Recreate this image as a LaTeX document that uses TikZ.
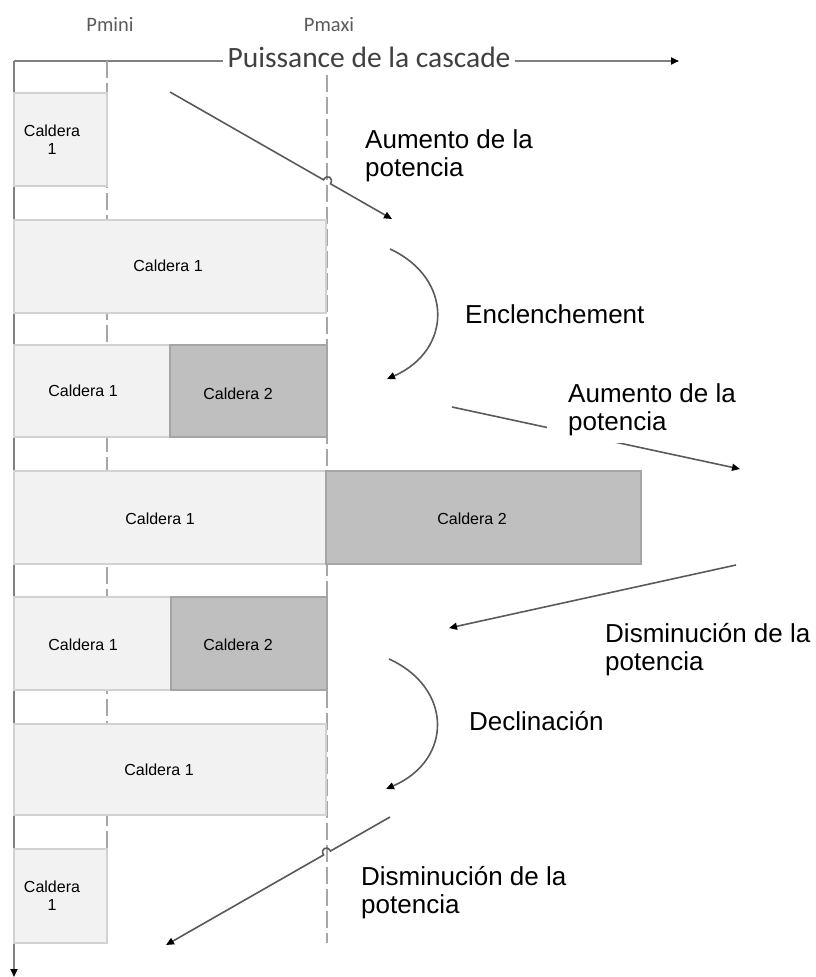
\documentclass[tikz,border=0pt]{standalone}
\usepackage{fontspec}
\setmainfont{Liberation Sans}
\newfontfamily\calib{Carlito}
\usetikzlibrary{arrows.meta}
\pgfdeclarelayer{lines}
\pgfdeclarelayer{mask}
\pgfsetlayers{lines,mask,main}
\definecolor{axisgray}{HTML}{808080}
\definecolor{dashgray}{HTML}{A6A6A6}
\definecolor{arrgray}{HTML}{5A5A5A}
\definecolor{calone}{HTML}{F2F2F2}
\definecolor{calonedraw}{HTML}{D2D2D2}
\definecolor{caltwo}{HTML}{BFBFBF}
\definecolor{caltwodraw}{HTML}{A5A5A5}
\definecolor{headtext}{HTML}{404040}
\definecolor{ptext}{HTML}{5A5A5A}
\begin{document}
\begin{tikzpicture}[x=1pt,y=-1pt,
  axisline/.style={draw=axisgray,line width=2.2pt},
  axistip/.style={-{Triangle[length=8pt,width=7pt,black]}},
  guide/.style={draw=dashgray,line width=2pt,dash pattern=on 17pt off 5pt},
  boxone/.style={draw=calonedraw,fill=calone,line width=1.2pt,inner sep=0pt,outer sep=0pt,anchor=north west},
  boxtwo/.style={draw=caltwodraw,fill=caltwo,line width=1.8pt,inner sep=0pt,outer sep=0pt,anchor=north west},
  lbl/.style={font=\fontsize{16}{18}\selectfont,inner sep=0pt,align=center},
  note/.style={font=\fontsize{26}{28}\selectfont,inner sep=0pt,align=left,anchor=base west},
  flow/.style={draw=arrgray,line width=1.6pt,-{Triangle[length=8pt,width=7pt,black]}},
]
\useasboundingbox (0,0) rectangle (816,977);

% axes
\coordinate (corner) at (14,61);
\coordinate (xend) at (679,61);
\coordinate (yend) at (14,977);
\node[font=\calib\fontsize{29.5}{32}\selectfont,text=headtext,fill=white,inner sep=4pt,anchor=base] (head) at (369,67) {Puissance de la cascade};
\node[font=\calib\fontsize{20.5}{22}\selectfont,text=ptext,inner sep=0pt,anchor=base] (pmini) at (110,31) {Pmini};
\node[font=\calib\fontsize{20.5}{22}\selectfont,text=ptext,inner sep=0pt,anchor=base] (pmaxi) at (329,31) {Pmaxi};

\begin{pgfonlayer}{lines}
\draw[axisline] (corner) -- (head.west |- corner);
\draw[axisline,axistip] (head.east |- corner) -- (xend);
\draw[axisline,axistip] (corner) -- (yend);

% guide lines
\coordinate (gmint) at (107,61);
\coordinate (gminb) at (107,943);
\coordinate (gmaxt) at (327,75);
\coordinate (gmaxb) at (327,943);
\draw[guide] (gmint) -- (gminb);
\draw[guide] (gmaxt) -- (gmaxb);

% boxes
\node[boxone,minimum width=93pt,minimum height=93pt] (r1a) at (14,93) {};
\node[boxone,minimum width=312pt,minimum height=93pt] (r2a) at (14,220) {};
\node[boxone,minimum width=156pt,minimum height=92pt] (r3a) at (14,345) {};
\node[boxtwo,minimum width=157pt,minimum height=92pt] (r3b) at (170,345) {};
\node[boxone,minimum width=312pt,minimum height=93pt] (r4a) at (14,471) {};
\node[boxtwo,minimum width=315pt,minimum height=93pt] (r4b) at (326,471) {};
\node[boxone,minimum width=157pt,minimum height=93pt] (r5a) at (14,597) {};
\node[boxtwo,minimum width=156pt,minimum height=93pt] (r5b) at (171,597) {};
\node[boxone,minimum width=312pt,minimum height=91pt] (r6a) at (14,724) {};
\node[boxone,minimum width=93pt,minimum height=94pt] (r7a) at (14,849) {};

% arrows
\coordinate (a1s) at (170,92);
\coordinate (a1h) at (323.5,179.8);
\coordinate (a1k) at (330.5,183.8);
\coordinate (a1e) at (392,219);
\draw[flow] (a1s) -- (a1h) .. controls (327,173.7) and (334,177.7) .. (a1k) -- (a1e);

\coordinate (a2s) at (390,249);
\coordinate (a2e) at (387,379);
\draw[flow] (a2s) .. controls (453,278) and (453,350) .. (a2e);

\coordinate (a3s) at (452,407);
\coordinate (a3e) at (740,469);
\draw[flow] (a3s) -- (a3e);

\coordinate (a4s) at (736,565);
\coordinate (a4e) at (449,628);
\draw[flow] (a4s) -- (a4e);

\coordinate (a5s) at (389,659);
\coordinate (a5e) at (386,789);
\draw[flow] (a5s) .. controls (453,688) and (453,760) .. (a5e);

\coordinate (a6s) at (390,817);
\coordinate (a6h) at (330.5,851);
\coordinate (a6k) at (323.5,855);
\coordinate (a6e) at (166,945);
\draw[flow] (a6s) -- (a6h) .. controls (327,844.9) and (320,848.9) .. (a6k) -- (a6e);
\end{pgfonlayer}

% box labels
\node[lbl] (t1) at (52,140) {Caldera\\1};
\node[lbl] (t2) at (168,266) {Caldera 1};
\node[lbl] (t3a) at (83,391) {Caldera 1};
\node[lbl] (t3b) at (238,394) {Caldera 2};
\node[lbl] (t4a) at (160,519) {Caldera 1};
\node[lbl] (t4b) at (472,519) {Caldera 2};
\node[lbl] (t5a) at (83,645) {Caldera 1};
\node[lbl] (t5b) at (238,645) {Caldera 2};
\node[lbl] (t6a) at (159,770) {Caldera 1};
\node[lbl] (t7) at (52,896) {Caldera\\1};

% notes (base anchor = baseline of the last line)
\node[note] (n1) at (365,176) {Aumento de la\\potencia};
\node[note] (n2) at (465,323) {Enclenchement};
\node[note] (n3) at (568,430) {Aumento de la\\potencia};
\node[note] (n4) at (605,670) {Disminución de la\\potencia};
\node[note] (n5) at (469,730) {Declinación};
\node[note] (n6) at (361,913) {Disminución de la\\potencia};

\begin{pgfonlayer}{mask}
\fill[white] ([xshift=-21pt,yshift=4pt]n3.north west) rectangle ([xshift=3pt,yshift=-7pt]n3.south east);
\end{pgfonlayer}
\end{tikzpicture}
\end{document}
